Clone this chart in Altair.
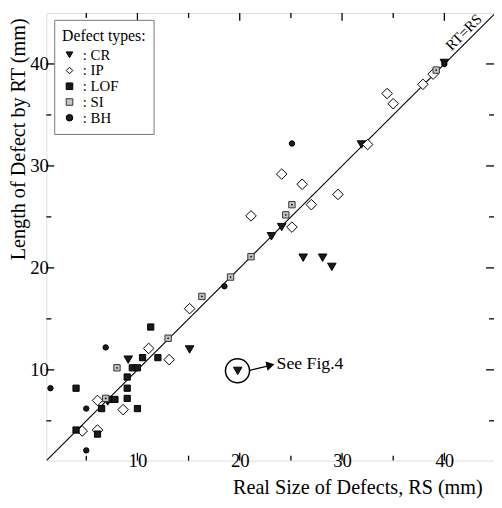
import altair as alt
import pandas as pd

types = ["CR", "IP", "LOF", "SI", "BH"]

cr_x = [7.1, 9.1, 15.1, 19.8, 23.1, 24.1, 26.2, 28.1, 29.0, 31.9, 40.0]
cr_y = [6.9, 11.0, 12.0, 9.9, 23.1, 24.0, 21.0, 21.0, 20.1, 32.1, 40.1]

ip_x = [4.6, 6.1, 6.1, 8.6, 11.1, 13.1, 15.1, 21.1, 24.1, 25.1, 26.1, 27.0, 29.6, 32.5, 34.4, 35.0, 37.9, 38.9]
ip_y = [4.0, 4.1, 7.0, 6.1, 12.1, 11.0, 16.0, 25.1, 29.2, 24.0, 28.2, 26.2, 27.2, 32.1, 37.1, 36.1, 38.0, 39.0]

lof_x = [4.0, 4.0, 6.1, 6.5, 7.3, 7.8, 9.0, 9.0, 9.0, 9.5, 10.0, 10.5, 12.0, 11.3, 10.0]
lof_y = [8.2, 4.1, 3.7, 6.2, 7.1, 7.1, 7.2, 8.2, 9.3, 10.2, 10.2, 11.2, 11.2, 14.2, 6.2]

si_x = [6.9, 8.0, 13.0, 16.3, 19.1, 21.1, 24.5, 25.1, 39.2]
si_y = [7.2, 10.2, 13.1, 17.2, 19.1, 21.1, 25.2, 26.2, 39.4]

bh_x = [1.5, 5.0, 5.0, 6.9, 18.5, 25.1, 40.0]
bh_y = [8.2, 6.2, 2.1, 12.2, 18.2, 32.2, 40.0]

x_ticks = [5, 10, 15, 20, 25, 30, 35, 40]
y_ticks = [5, 10, 15, 20, 25, 30, 35, 40]
major_labels = [10, 20, 30, 40]

# marker styling per type (style, not data)
marker_size = {"CR": 75, "IP": 115, "LOF": 40, "SI": 42, "BH": 30}

rows = []
for t, xs_, ys_ in [("CR", cr_x, cr_y), ("IP", ip_x, ip_y), ("LOF", lof_x, lof_y),
                    ("SI", si_x, si_y), ("BH", bh_x, bh_y)]:
    for a, b in zip(xs_, ys_):
        rows.append({"type": t, "rs": a, "rt": b, "sz": marker_size[t]})
df = pd.DataFrame(rows)
si_df = pd.DataFrame({"rs": si_x, "rt": si_y})

W, H = 455, 455
FONT = "Liberation Serif"
xs = alt.Scale(domain=[1.1, 44.85], nice=False, zero=False)
ys = alt.Scale(domain=[1.1, 45.0], nice=False, zero=False)

legend = alt.Legend(
    title="Defect types:", orient="none", legendX=8, legendY=7,
    fillColor="white", strokeColor="#777", padding=8,
    titleFont=FONT, titleFontSize=16, titleFontWeight="normal", titleColor="black",
    titlePadding=4, labelFont=FONT, labelFontSize=15, labelColor="black",
    labelExpr="': ' + datum.label", rowPadding=0,
    symbolStrokeWidth=1, symbolOpacity=1, symbolSize=45, labelOffset=6,
)

x_axis = alt.Axis(values=major_labels, ticks=False, tickSize=0, domain=False, grid=False,
                  labelPadding=0, labelBaseline="middle",
                  title="Real Size of Defects, RS (mm)",
                  titleX=443, titleY=33, titleAlign="right", titleBaseline="alphabetic")
y_axis = alt.Axis(values=major_labels, ticks=False, tickSize=0, domain=False, grid=False,
                  labelPadding=-2,
                  title="Length of Defect by RT (mm)",
                  titleAngle=270, titleX=-22, titleY=5, titleAlign="right", titleBaseline="alphabetic")

diag = pd.DataFrame({"rs": [1.1, 45.0], "rt": [1.1, 45.0]})
line = alt.Chart(diag).mark_line(color="black", strokeWidth=1.2, clip=True).encode(
    x=alt.X("rs:Q", scale=xs, axis=x_axis), y=alt.Y("rt:Q", scale=ys, axis=y_axis))

points = alt.Chart(df).mark_point(filled=False, strokeWidth=1, opacity=1).encode(
    x=alt.X("rs:Q", scale=xs, axis=x_axis),
    y=alt.Y("rt:Q", scale=ys, axis=y_axis),
    shape=alt.Shape("type:N", scale=alt.Scale(domain=types,
                    range=["triangle-down", "diamond", "square", "square", "circle"]), legend=legend),
    fill=alt.Fill("type:N", scale=alt.Scale(domain=types,
                  range=["#1a1a1a", "white", "#1a1a1a", "#c4c4c4", "#1a1a1a"]), legend=legend),
    stroke=alt.Stroke("type:N", scale=alt.Scale(domain=types,
                      range=["black", "black", "black", "#333333", "black"]), legend=legend),
    size=alt.Size("sz:Q", scale=None),
)

si_dots = alt.Chart(si_df).mark_point(filled=True, shape="circle", size=3, color="black", opacity=1).encode(
    x=alt.X("rs:Q", scale=xs), y=alt.Y("rt:Q", scale=ys))

ann_circle = pd.DataFrame({"rs": [19.78], "rt": [9.91]})
circle = alt.Chart(ann_circle).mark_point(shape="circle", size=600, filled=False, stroke="black",
                                          strokeWidth=1.5, opacity=1).encode(
    x=alt.X("rs:Q", scale=xs), y=alt.Y("rt:Q", scale=ys))

arrow_df = pd.DataFrame({"rs": [20.96], "rt": [9.94], "rs2": [22.9], "rt2": [10.42]})
arrow = alt.Chart(arrow_df).mark_rule(color="black", strokeWidth=1.3).encode(
    x=alt.X("rs:Q", scale=xs), y=alt.Y("rt:Q", scale=ys), x2="rs2:Q", y2="rt2:Q")
head_df = pd.DataFrame({"rs": [23.0], "rt": [10.45]})
head = alt.Chart(head_df).mark_point(shape="triangle-right", size=90, filled=True, color="black",
                                     angle=347, opacity=1).encode(
    x=alt.X("rs:Q", scale=xs), y=alt.Y("rt:Q", scale=ys))

see_df = pd.DataFrame({"rs": [23.6], "rt": [10.6], "label": ["See Fig.4"]})
see = alt.Chart(see_df).mark_text(font=FONT, fontSize=18, align="left", baseline="middle",
                                  color="black").encode(
    x=alt.X("rs:Q", scale=xs), y=alt.Y("rt:Q", scale=ys), text="label:N")

rt_df = pd.DataFrame({"rs": [42.5], "rt": [42.5], "label": ["RT=RS"]})
rtlab = alt.Chart(rt_df).mark_text(font=FONT, fontSize=15, align="center", baseline="bottom",
                                   angle=315, dy=-1, color="black").encode(
    x=alt.X("rs:Q", scale=xs), y=alt.Y("rt:Q", scale=ys), text="label:N")

xt = pd.DataFrame({"v": x_ticks, "major": [v % 10 == 0 for v in x_ticks]})
yt = pd.DataFrame({"v": y_ticks, "major": [v % 10 == 0 for v in y_ticks]})


def tick_layers():
    layers = []
    for major, ln in [(True, 8), (False, 5)]:
        xd = alt.Chart(xt).transform_filter(alt.datum.major == major)
        yd = alt.Chart(yt).transform_filter(alt.datum.major == major)
        layers.append(xd.mark_rule(color="black", strokeWidth=1.3).encode(
            x=alt.X("v:Q", scale=xs), y=alt.value(H), y2=alt.value(H - ln)))
        layers.append(xd.mark_rule(color="black", strokeWidth=1.3).encode(
            x=alt.X("v:Q", scale=xs), y=alt.value(0), y2=alt.value(ln)))
        layers.append(yd.mark_rule(color="black", strokeWidth=1.3).encode(
            y=alt.Y("v:Q", scale=ys), x=alt.value(0), x2=alt.value(ln)))
        layers.append(yd.mark_rule(color="black", strokeWidth=1.3).encode(
            y=alt.Y("v:Q", scale=ys), x=alt.value(W), x2=alt.value(W - ln)))
    return layers


chart = alt.layer(line, *tick_layers(), points, si_dots, circle, arrow, head, see, rtlab).properties(
    width=W, height=H,
    autosize=alt.AutoSizeParams(type="none"),
    padding={"left": 39, "top": 1, "right": 0, "bottom": 36},
).configure_view(stroke="black", strokeWidth=2).configure(background="white").configure_axis(
    labelFont=FONT, labelFontSize=19, labelColor="black",
    titleFont=FONT, titleFontSize=20.5, titleFontWeight="normal", titleColor="black",
).configure_legend(
    titleFont=FONT, labelFont=FONT,
).configure_text(font=FONT)

chart.save("out.html", embed_options={"renderer": "svg", "actions": False})
